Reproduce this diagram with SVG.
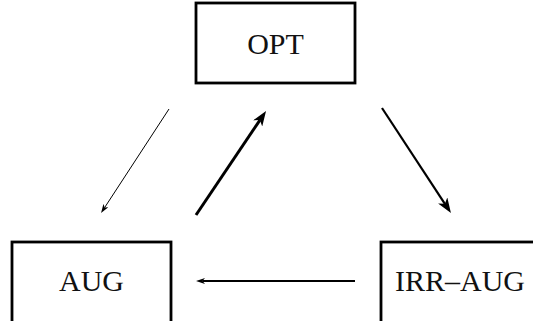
<svg xmlns="http://www.w3.org/2000/svg" width="533" height="321" viewBox="0 0 533 321">
<style>
.box{fill:#fff;stroke:#000;stroke-width:2.8}
.lbl{font-family:"Liberation Serif","DejaVu Serif",serif;font-size:30px;fill:#111;text-anchor:middle}
.edge{stroke:#000;fill:none}
</style>
<defs>
<marker id="ahS" viewBox="0 0 9 6" refX="2.5" refY="3" markerWidth="9" markerHeight="6" markerUnits="userSpaceOnUse" orient="auto">
<path d="M0,0 L9,3 L0,6 L2.5,3 z" fill="#000"/>
</marker>
<marker id="ahL" viewBox="0 0 15 11" refX="4" refY="5.5" markerWidth="15" markerHeight="11" markerUnits="userSpaceOnUse" orient="auto">
<path d="M0,0 L15,5.5 L0,11 L4,5.5 z" fill="#000"/>
</marker>
</defs>
<rect width="533" height="321" fill="#fff"/>
<g id="opt">
<rect class="box" x="196" y="3" width="159" height="80"/>
<text class="lbl" x="275.5" y="54">OPT</text>
</g>
<g id="aug">
<rect class="box" x="12" y="242" width="159" height="82"/>
<text class="lbl" x="91.5" y="291">AUG</text>
</g>
<g id="irr-aug">
<rect class="box" x="381" y="242" width="159" height="82"/>
<text class="lbl" x="460" y="291">IRR–AUG</text>
</g>
<g id="connectors">
<line class="edge" x1="169" y1="109" x2="104.6" y2="207.6" stroke-width="1" marker-end="url(#ahS)"/>
<line class="edge" x1="196" y1="215" x2="259.9" y2="120.1" stroke-width="3" marker-end="url(#ahL)"/>
<line class="edge" x1="382" y1="108" x2="444.9" y2="203.8" stroke-width="2.2" marker-end="url(#ahL)"/>
<line class="edge" x1="355" y1="281" x2="202.5" y2="281" stroke-width="2" marker-end="url(#ahS)"/>
</g>
</svg>
